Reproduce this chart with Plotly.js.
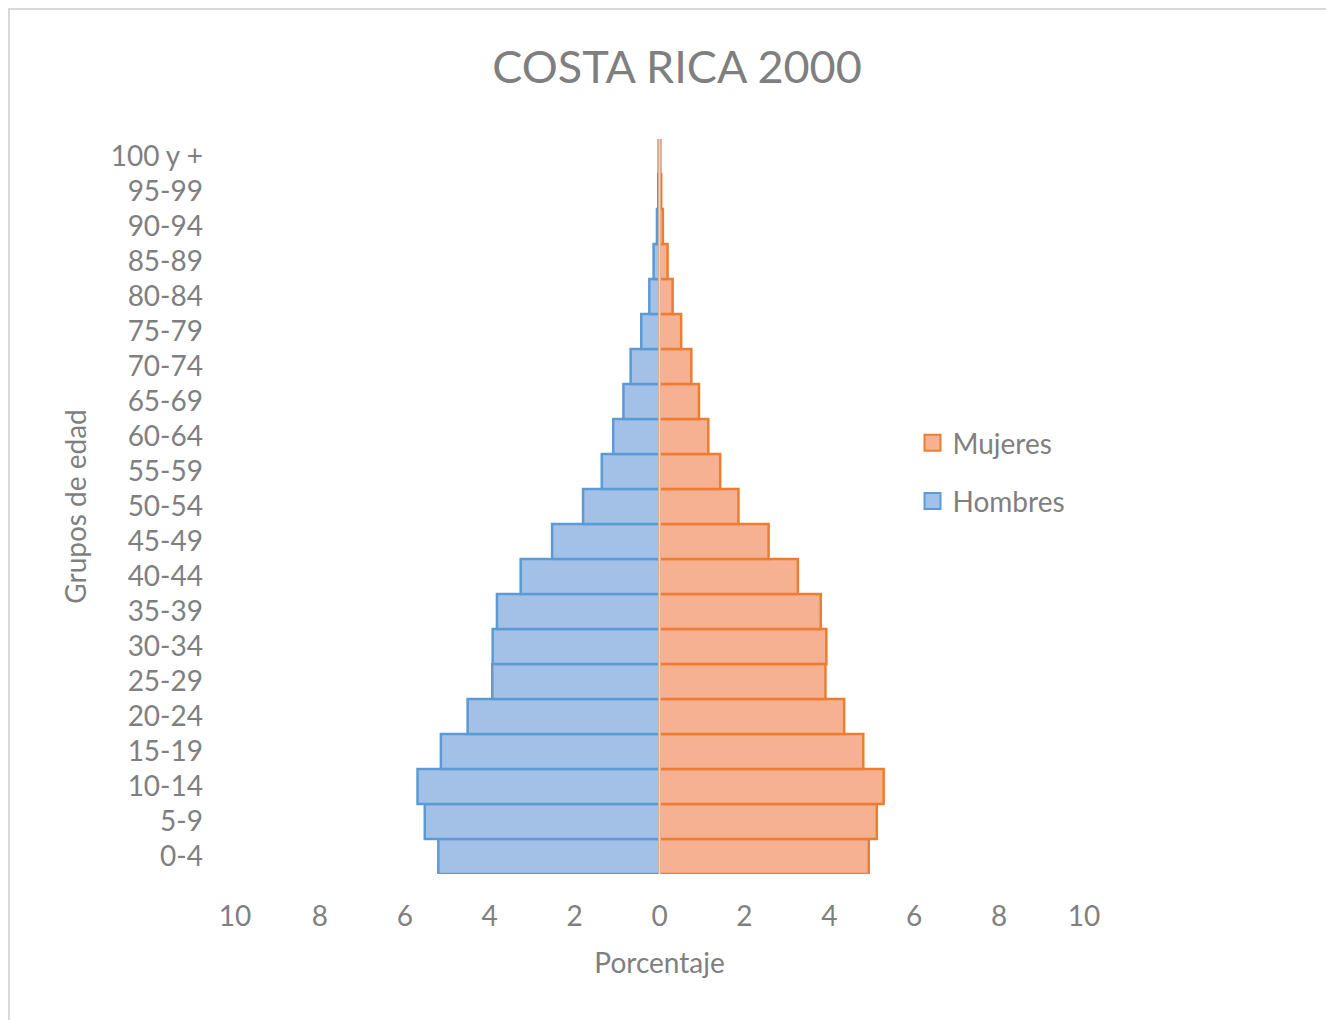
<!DOCTYPE html>
<html>
<head>
<meta charset="utf-8">
<script src="https://cdn.plot.ly/plotly-3.0.1.min.js"></script>
<style>
  html, body { margin: 0; padding: 0; background: #ffffff; }
  #wrap { position: relative; width: 1326px; height: 1020px; overflow: hidden; }
  #frame { position: absolute; left: 8px; top: 8px; width: 1400px; height: 1100px;
           border-left: 2px solid #d9d9d9; border-top: 2px solid #d9d9d9; pointer-events: none; }
  #chart { position: absolute; left: 0; top: 0; width: 1326px; height: 1020px; }
</style>
</head>
<body>
<div id="wrap">
  <div id="chart"></div>
  <div id="frame"></div>
</div>
<script>
// Age groups, youngest first (drawn bottom to top)
const grupos = ['0-4', '5-9', '10-14', '15-19', '20-24', '25-29', '30-34', '35-39',
  '40-44', '45-49', '50-54', '55-59', '60-64', '65-69', '70-74', '75-79',
  '80-84', '85-89', '90-94', '95-99', '100 y +'];

// Share of total population (%) per age group
const hombres = [5.21, 5.53, 5.70, 5.15, 4.52, 3.94, 3.93, 3.83, 3.27, 2.53, 1.80,
  1.36, 1.09, 0.85, 0.68, 0.43, 0.24, 0.14, 0.06, 0.03, 0.02];
const mujeres = [4.93, 5.12, 5.28, 4.80, 4.35, 3.91, 3.93, 3.80, 3.26, 2.57, 1.86,
  1.43, 1.15, 0.93, 0.75, 0.51, 0.31, 0.19, 0.08, 0.04, 0.02];

// Symmetric percentage axis
const tickValues = [-10, -8, -6, -4, -2, 0, 2, 4, 6, 8, 10];
const tickLabels = ['10', '8', '6', '4', '2', '0', '2', '4', '6', '8', '10'];

const FONT = 'Lato, "Open Sans", sans-serif';
const GRIS = '#7f7f7f';

const AZUL = { fill: '#a3c0e6', line: '#5b9bd5' };
const NARANJA = { fill: '#f5b191', line: '#ed7d31' };

const traces = [
  {
    type: 'bar', orientation: 'h', name: 'Hombres',
    y: grupos, x: hombres.map(v => -v),
    marker: { color: AZUL.fill, line: { color: AZUL.line, width: 2.5 } },
    showlegend: false, hoverinfo: 'skip'
  },
  {
    type: 'bar', orientation: 'h', name: 'Mujeres',
    y: grupos, x: mujeres,
    marker: { color: NARANJA.fill, line: { color: NARANJA.line, width: 2.5 } },
    showlegend: false, hoverinfo: 'skip'
  },
  // Legend keys with larger square swatches
  {
    type: 'scatter', mode: 'markers', name: 'Mujeres', x: [null], y: [null],
    marker: { symbol: 'square', size: 16, color: NARANJA.fill, line: { color: NARANJA.line, width: 2 } },
    legendgroup: 'm', legendrank: 1, hoverinfo: 'skip'
  },
  {
    type: 'scatter', mode: 'markers', name: 'Hombres', x: [null], y: [null],
    marker: { symbol: 'square', size: 16, color: AZUL.fill, line: { color: AZUL.line, width: 2 } },
    legendgroup: 'h', legendrank: 2, hoverinfo: 'skip'
  }
];

const layout = {
  width: 1326, height: 1020,
  paper_bgcolor: 'rgba(0,0,0,0)', plot_bgcolor: 'rgba(0,0,0,0)',
  margin: { l: 235, r: 242, t: 139, b: 146 },
  barmode: 'overlay', bargap: 0,
  font: { family: FONT, color: GRIS, size: 28 },
  title: {
    text: 'COSTA RICA 2000',
    font: { family: FONT, size: 45, color: GRIS },
    xref: 'container', x: 0.5106, xanchor: 'center',
    yref: 'container', y: 1 - 67 / 1020, yanchor: 'middle'
  },
  xaxis: {
    range: [-10, 10], tickvals: tickValues, ticktext: tickLabels,
    showgrid: false, showline: false, ticks: '', zeroline: false,
    ticklabelstandoff: 23,
    tickfont: { family: FONT, size: 28, color: GRIS },
    title: { text: 'Porcentaje', font: { family: FONT, size: 28, color: GRIS }, standoff: 22 },
    fixedrange: true
  },
  yaxis: {
    type: 'category', range: [-0.5, 20.5],
    showgrid: false, showline: false, zeroline: false, ticks: '',
    ticklabelstandoff: 31,
    tickfont: { family: FONT, size: 28, color: GRIS },
    title: { text: 'Grupos de edad', font: { family: FONT, size: 28, color: GRIS }, standoff: 15 },
    fixedrange: true
  },
  // vertical axis line at 0, drawn over the bars
  shapes: [{
    type: 'line', layer: 'above', xref: 'x', yref: 'paper',
    x0: 0, x1: 0, y0: 0, y1: 1,
    line: { color: '#d9d9d9', width: 2 }
  }],
  showlegend: true,
  legend: {
    traceorder: 'grouped', tracegroupgap: 19,
    x: 0.798, xanchor: 'left', y: 0.547, yanchor: 'middle',
    font: { family: FONT, size: 28, color: GRIS },
    bgcolor: 'rgba(0,0,0,0)'
  }
};

Plotly.newPlot('chart', traces, layout, { staticPlot: true, displayModeBar: false });
</script>
</body>
</html>
